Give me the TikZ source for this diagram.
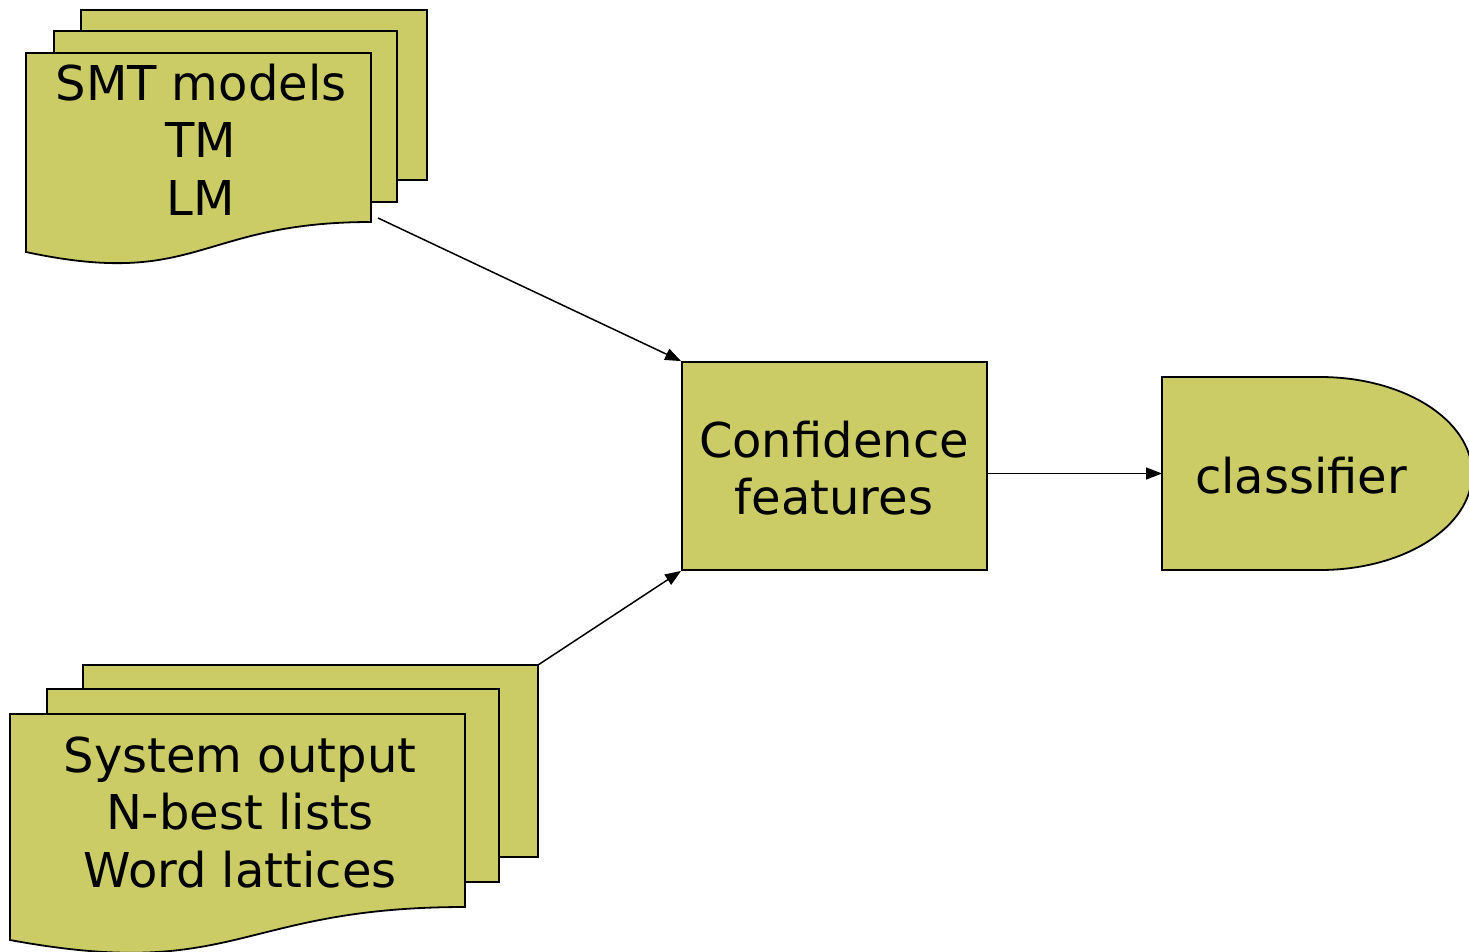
\documentclass[tikz,border=0pt]{standalone}
\usepackage{fontspec}
\setmainfont{DejaVu Sans}
\usetikzlibrary{arrows.meta}
\definecolor{sheetfill}{RGB}{204,204,102}
\newcommand{\lines}[1]{\begin{tabular}[t]{@{}c@{}}#1\end{tabular}}
\begin{document}
\begin{tikzpicture}[x=1pt,y=-1pt,
  sheet/.style={fill=sheetfill, draw=black, line width=1.8pt, line join=miter},
  arr/.style={line width=1.5pt, -{Triangle[length=16pt,width=12pt]}},
  lbl/.style={anchor=base, inner sep=0pt, font=\fontsize{48}{57.5}\selectfont}]
\useasboundingbox[fill=white] (0,0) rectangle (1469,951);

% model files (stacked documents, upper left)
\draw[sheet] (81,10) rectangle (427,180);
\draw[sheet] (54,31) rectangle (397,202);
\draw[sheet] (26,53) -- (371,53) -- (371,222)
  .. controls (198.5,222) and (198.5,289) .. (26,252) -- cycle;
\node[lbl] (smt) at (201,100) {\lines{SMT models\\TM\\LM}};
\coordinate (smtout) at (378,218);

% decoder output files (stacked documents, lower left)
\draw[sheet] (83,665) rectangle (538,857);
\draw[sheet] (47,689) rectangle (499,882);
\draw[sheet] (10,714) -- (465,714) -- (465,907)
  .. controls (237.5,907) and (237.5,982) .. (10,940) -- cycle;
\node[lbl] (sys) at (240,772) {\lines{System output\\N-best lists\\Word lattices}};
\coordinate (sysout) at (538,665);

% feature extraction
\node[sheet, minimum width=305pt, minimum height=208pt, inner sep=0pt] (conf) at (834.5,466) {};
\node[lbl] (conftext) at (834,457) {\lines{Confidence\\features}};

% classifier (delay shape)
\draw[sheet] (1162,377) -- (1320,377)
  .. controls (1404,377) and (1472,420.2) .. (1472,473.5)
  .. controls (1472,526.8) and (1404,570) .. (1320,570)
  -- (1162,570) -- cycle;
\coordinate (clf) at (1162,473.5);
\node[lbl] (clftext) at (1301,493) {classifier};

% connectors
\draw[arr] (smtout) -- (conf.north west);
\draw[arr] (sysout) -- (conf.south west);
\draw[arr] (conf.east |- clf) -- (clf);
\end{tikzpicture}
\end{document}
